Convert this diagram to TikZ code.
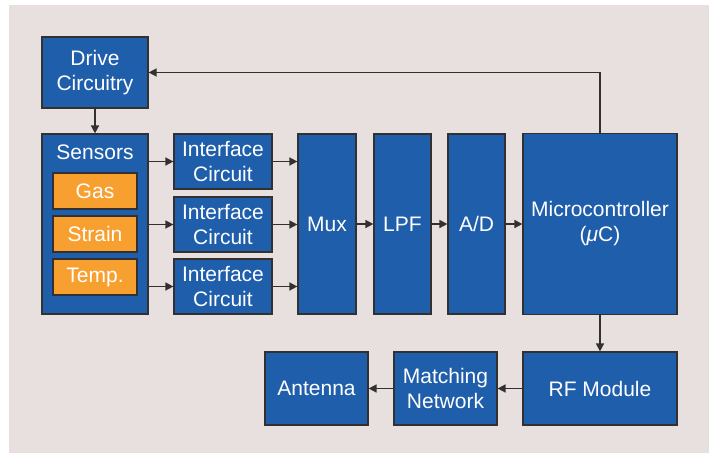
\documentclass[tikz,border=0pt]{standalone}
\usepackage{fontspec}
\setmainfont{Liberation Sans}
\usepackage{tikz}
\usetikzlibrary{arrows.meta}
\usetikzlibrary{positioning}
\definecolor{blockblue}{RGB}{31,94,171}
\definecolor{sensorange}{RGB}{247,160,48}
\definecolor{edgegrey}{RGB}{50,48,48}
\definecolor{backgrey}{RGB}{232,224,223}
\tikzset{block/.style={draw=edgegrey, line width=1.2pt, fill=blockblue, text=white,
    align=center, inner sep=2pt, font=\fontsize{21}{25}\selectfont},
  sensor/.style={block, fill=sensorange, minimum width=84pt, minimum height=36pt},
  iface/.style={block, minimum width=98pt, minimum height=55pt},
  filter/.style={block, minimum width=57pt, minimum height=180pt},
  wire/.style={->, line width=1.5pt, draw=edgegrey}
}

\begin{document}
\begin{tikzpicture}[x=1pt, y=-1pt, > = {Triangle[length=8pt,width=8pt]}, on grid]
  \fill[white] (0,0) rectangle (712,453);
  \fill[backgrey] (9,5) rectangle (709,453);
  \useasboundingbox (0,0) rectangle (712,453);

  \node[block, minimum width=106pt, minimum height=71pt] (drive) at (95,72.5) {Drive\\Circuitry};
  \node[block, minimum width=106pt, minimum height=180pt] (sensors) [below=151.5pt of drive] {};
  \node[text=white, font=\fontsize{21}{25}\selectfont] (senslabel) at (95,152) {Sensors};
  \node[sensor] (gas)    at (95,191) {Gas};
  \node[sensor] (strain) [below=43pt of gas]    {Strain};
  \node[sensor] (temp)   [below=43pt of strain] {Temp.};

  \node[iface] (if1) at (223,161.5) {Interface\\Circuit};
  \node[iface] (if2) [below=63pt of if1] {Interface\\Circuit};
  \node[iface] (if3) [below=62pt of if2] {Interface\\Circuit};

  \node[filter, minimum width=58pt] (mux) at (327,224) {Mux};
  \node[filter] (lpf) [right=75.5pt of mux] {LPF};
  \node[filter] (adc) [right=74pt of lpf]   {A/D};
  \node[block, minimum width=154pt, minimum height=181pt] (uc) [right=123.5pt of adc] {Microcontroller\\(\textit{μ}C)};

  \node[block, minimum width=154pt, minimum height=73pt] (rf) at (600,388.5) {RF Module};
  \node[block, minimum width=103pt, minimum height=73pt] (match) [left=154.5pt of rf] {Matching\\Network};
  \node[block, minimum width=103pt, minimum height=73pt] (antenna) [left=129pt of match] {Antenna};

  \draw[wire] (drive) -- (sensors);
  \foreach \i in {1,2,3} {
    \draw[wire] (sensors.east |- if\i) -- (if\i.west);
    \draw[wire] (if\i.east) -- (mux.west |- if\i);
  }
  \draw[wire] (mux) -- (lpf);
  \draw[wire] (lpf) -- (adc);
  \draw[wire] (adc) -- (uc);
  \draw[wire] (uc.north) |- (drive.east);
  \draw[wire] (uc) -- (rf);
  \draw[wire] (rf) -- (match);
  \draw[wire] (match) -- (antenna);
\end{tikzpicture}
\end{document}
